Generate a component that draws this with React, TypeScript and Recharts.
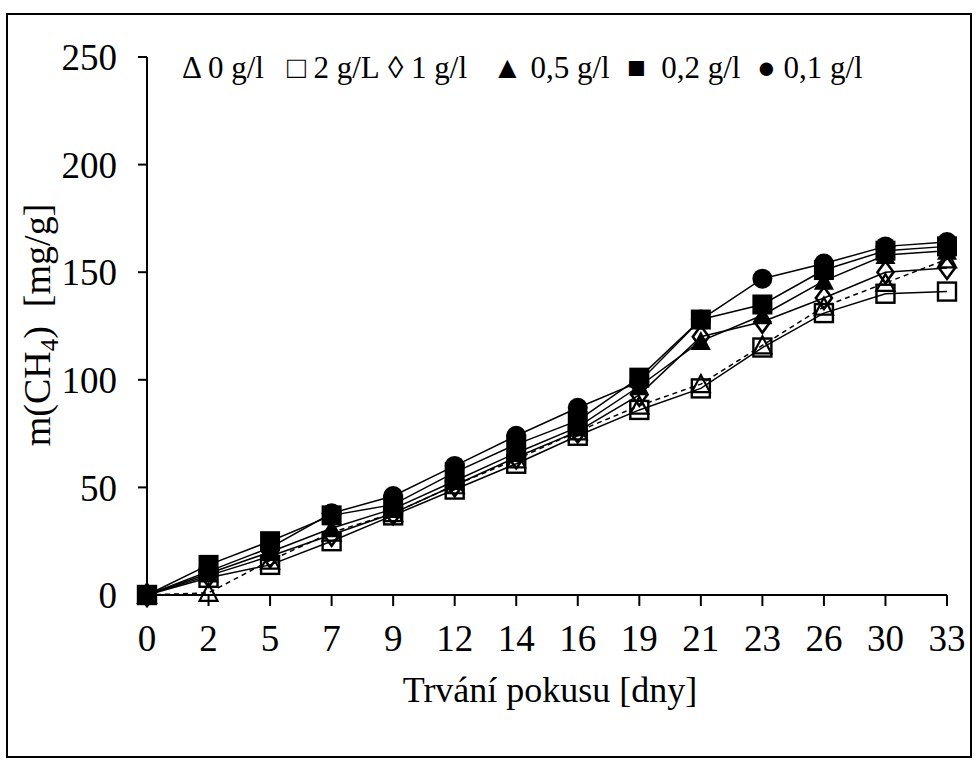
import React from 'react';
import { LineChart, Line, XAxis, YAxis } from 'recharts';

const days = ['0', '2', '5', '7', '9', '12', '14', '16', '19', '21', '23', '26', '30', '33'];

const conc0 = [0, 1, 16, 29, 38, 51, 63, 76, 88, 98, 116, 134, 145, 156];
const conc2 = [0, 8, 14, 25, 37, 49, 61, 74, 86, 96, 115, 131, 140, 141];
const conc1 = [0, 9, 18, 28, 38, 51, 64, 76, 93, 120, 127, 138, 150, 152];
const conc05 = [0, 10, 20, 31, 40, 53, 66, 78, 97, 118, 130, 146, 158, 160];
const conc02 = [0, 14, 25, 37, 42, 57, 70, 81, 101, 128, 135, 151, 160, 162];
const conc01 = [0, 11, 22, 38, 46, 60, 74, 87, 99, 128, 147, 154, 162, 164];

const yTicks = [0, 50, 100, 150, 200, 250];

const legendItems = ['\u0394 0 g/l', '\u25A1 2 g/L', '\u25CA 1 g/l', '\u25B2 0,5 g/l', '\u25A0  0,2 g/l', '\u25CF 0,1 g/l'];
const legendX = [174, 279, 380, 484, 619, 749];

const data = days.map((d, i) => ({
  day: d,
  c0: conc0[i],
  c2: conc2[i],
  c1: conc1[i],
  c05: conc05[i],
  c02: conc02[i],
  c01: conc01[i],
}));

const FONT = '"Liberation Serif", "Times New Roman", serif';

type Shape = 'openTri' | 'openSq' | 'openDia' | 'tri' | 'sq' | 'circle';

function makeDot(shape: Shape) {
  return (props: any) => {
    const { cx, cy, index } = props;
    const k = `${shape}-${index}`;
    if (cx == null || cy == null) return <g key={k} />;
    switch (shape) {
      case 'openTri':
        return <path key={k} d={`M${cx},${cy - 9} L${cx + 9},${cy + 8} L${cx - 9},${cy + 8} Z`} fill="none" stroke="#000" strokeWidth={2.2} />;
      case 'openSq':
        return <rect key={k} x={cx - 9} y={cy - 9} width={18} height={18} fill="none" stroke="#000" strokeWidth={2.4} />;
      case 'openDia':
        return <path key={k} d={`M${cx},${cy - 11} L${cx + 8},${cy} L${cx},${cy + 11} L${cx - 8},${cy} Z`} fill="none" stroke="#000" strokeWidth={2.6} />;
      case 'tri':
        return <path key={k} d={`M${cx},${cy - 10} L${cx + 10},${cy + 9} L${cx - 10},${cy + 9} Z`} fill="#000" />;
      case 'sq':
        return <rect key={k} x={cx - 10} y={cy - 10} width={20} height={20} fill="#000" />;
      default:
        return <circle key={k} cx={cx} cy={cy} r={10} fill="#000" />;
    }
  };
}

const series: { key: string; shape: Shape; dash?: string }[] = [
  { key: 'c0', shape: 'openTri', dash: '5 4' },
  { key: 'c2', shape: 'openSq' },
  { key: 'c1', shape: 'openDia' },
  { key: 'c05', shape: 'tri' },
  { key: 'c02', shape: 'sq' },
  { key: 'c01', shape: 'circle' },
];

const YLabel = () => (
  <text
    x={42}
    y={310}
    transform="rotate(-90, 42, 310)"
    textAnchor="middle"
    fontFamily={FONT}
    fontSize={38}
    fill="#000"
    style={{ whiteSpace: 'pre' }}
  >
    m(CH<tspan fontSize={25} dy={8}>4</tspan>
    <tspan dy={-8}>)  [mg/g]</tspan>
  </text>
);

const XLabel = (props: any) => {
  const vb = props.viewBox || { x: 139, width: 800, y: 580 };
  return (
    <text
      x={vb.x + vb.width / 2 + 3}
      y={687}
      textAnchor="middle"
      fontFamily={FONT}
      fontSize={36}
      fill="#000"
    >
      Trvání pokusu [dny]
    </text>
  );
};

export default function App() {
  return (
    <div
      style={{
        position: 'absolute',
        left: 6,
        top: 13,
        width: 962,
        height: 741,
        border: '2px solid #000',
        background: '#fff',
      }}
    >
      <LineChart
        width={962}
        height={741}
        data={data}
        margin={{ top: 42, right: 23, left: 0, bottom: 0 }}
      >
        <XAxis
          dataKey="day"
          height={161}
          stroke="#000"
          strokeWidth={2}
          tickSize={11}
          tickMargin={19}
          interval={0}
          tick={{ fontSize: 37, fontFamily: FONT, fill: '#000' }}
          tickLine={{ stroke: '#000', strokeWidth: 2 }}
          label={<XLabel />}
        />
        <YAxis
          width={139}
          domain={[0, 250]}
          ticks={yTicks}
          stroke="#000"
          strokeWidth={2}
          tickSize={9}
          tickMargin={21}
          tick={{ fontSize: 37, fontFamily: FONT, fill: '#000' }}
          tickLine={{ stroke: '#000', strokeWidth: 2 }}
          label={<YLabel />}
        />
        {series.map((s) => (
          <Line
            key={s.key}
            dataKey={s.key}
            type="linear"
            stroke="#000"
            strokeWidth={1.5}
            strokeDasharray={s.dash}
            dot={makeDot(s.shape)}
            activeDot={false}
            isAnimationActive={false}
          />
        ))}
      </LineChart>
      <svg
        width={962}
        height={100}
        style={{ position: 'absolute', left: 0, top: 0, pointerEvents: 'none' }}
      >
        {legendItems.map((t, i) => (
          <text
            key={t}
            x={legendX[i]}
            y={63}
            fontFamily={FONT}
            fontSize={31}
            fill="#000"
            style={{ whiteSpace: 'pre' }}
          >
            {t}
          </text>
        ))}
      </svg>
    </div>
  );
}
